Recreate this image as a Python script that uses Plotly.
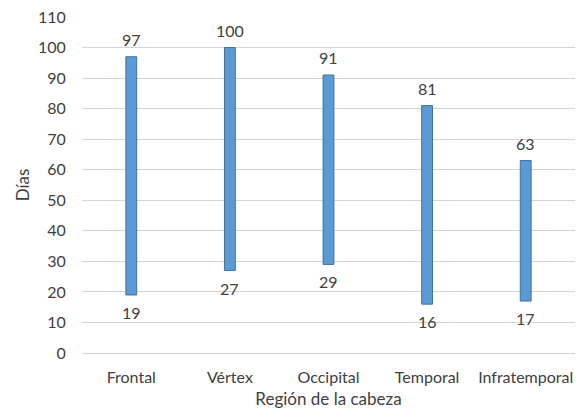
import plotly.graph_objects as go

regions = ["Frontal", "Vértex", "Occipital", "Temporal", "Infratemporal"]
min_days = [19, 27, 29, 16, 17]
max_days = [97, 100, 91, 81, 63]
y_ticks = list(range(0, 111, 10))

FONT = "Lato, Open Sans, sans-serif"
TXT = "#404040"

fig = go.Figure()
fig.add_trace(go.Bar(
    x=regions,
    y=[hi - lo for lo, hi in zip(min_days, max_days)],
    base=min_days,
    width=0.11,
    marker=dict(color="#5B9BD5", line=dict(color="#41719C", width=1)),
    hoverinfo="skip",
))

annots = []
for r, lo, hi in zip(regions, min_days, max_days):
    annots.append(dict(x=r, y=hi, text=str(hi), showarrow=False, yanchor="bottom",
                       yshift=6, font=dict(family=FONT, size=16, color=TXT)))
    annots.append(dict(x=r, y=lo, text=str(lo), showarrow=False, yanchor="top",
                       yshift=-6, font=dict(family=FONT, size=16, color=TXT)))

fig.update_layout(
    width=579, height=414,
    margin=dict(l=82, r=4, t=17, b=61),
    paper_bgcolor="white", plot_bgcolor="white",
    showlegend=False,
    annotations=annots,
    font=dict(family=FONT, size=16, color=TXT),
    xaxis=dict(
        automargin=False,
        showgrid=False, zeroline=False, showline=False,
        ticks="outside", ticklen=10, tickcolor="rgba(0,0,0,0)",
        tickfont=dict(size=16, color=TXT),
        title=dict(text="Región de la cabeza", font=dict(size=17, color=TXT), standoff=7),
    ),
    yaxis=dict(
        automargin=False,
        range=[0, 110], tickvals=y_ticks,
        showgrid=True, gridcolor="#D4D4D4", gridwidth=1,
        zeroline=True, zerolinecolor="#D4D4D4", zerolinewidth=1,
        showline=False,
        ticks="outside", ticklen=12, tickcolor="rgba(0,0,0,0)",
        tickfont=dict(size=16, color=TXT),
        title=dict(text="Días", font=dict(size=17, color=TXT), standoff=4),
    ),
)

fig.write_html("out.html", config={"displayModeBar": False},
               post_script="document.body.style.margin='0';")
